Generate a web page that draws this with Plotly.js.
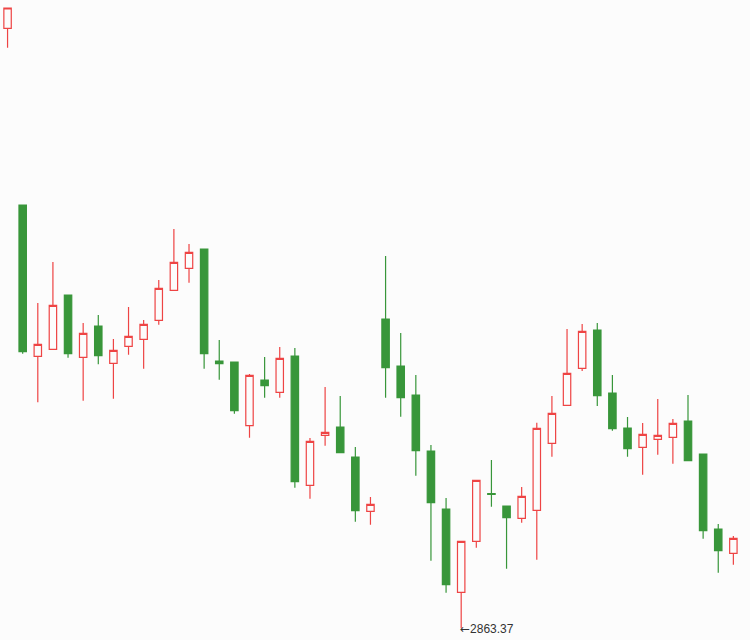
<!DOCTYPE html>
<html>
<head>
<meta charset="utf-8">
<script src="https://cdn.plot.ly/plotly-3.0.1.min.js"></script>
<style>
  html, body { margin: 0; padding: 0; background: #fcfcfc; }
  #chart { width: 750px; height: 640px; }
</style>
</head>
<body>
<div id="chart"></div>
<script>
const days = [1,2,3,4,5,6,7,8,9,10,11,12,13,14,15,16,17,18,19,20,21,22,23,24,25,26,27,28,29,30,31,32,33,34,35,36,37,38,39,40,41,42,43,44,45,46,47,48,49];

const openP = [3343.13,3201.77,3080.73,3086.33,3129.77,3079.93,3104.97,3075.13,3088.73,3094.33,
  3109.53,3133.53,3151.13,3166.57,3076.97,3076.17,3025.21,3061.77,3051.93,3080.97,
  2977.53,3017.53,3024.17,3000.17,2956.73,3110.57,3072.97,3049.77,3004.97,2958.57,
  2891.93,2932.73,2970.97,2960.97,2951.13,2957.53,3011.13,3041.53,3071.13,3101.77,
  3051.37,3023.37,3007.93,3014.33,3015.93,3028.97,3002.57,2942.57,2923.13];

const highP = [3359.37,3201.77,3123.37,3156.17,3129.77,3107.37,3113.77,3094.57,3120.17,3109.77,
  3141.77,3182.57,3170.57,3166.57,3093.77,3076.17,3066.57,3080.17,3088.17,3087.37,
  3015.37,3056.17,3048.97,3008.17,2968.17,3160.97,3099.37,3065.77,3009.77,2967.37,
  2932.73,2981.53,2997.77,2960.97,2976.17,3027.61,3048.97,3102.57,3106.57,3107.37,
  3065.77,3032.17,3027.37,3046.57,3030.57,3049.77,3002.57,2946.57,2936.97];

const lowP = [3327.61,3082.81,3043.93,3086.33,3079.61,3045.21,3074.33,3046.81,3082.01,3070.81,
  3106.01,3133.53,3139.61,3070.81,3062.01,3034.81,3015.61,3047.61,3047.61,2975.61,
  2966.81,3009.21,3003.61,2948.41,2946.01,3047.61,3032.41,2985.21,2917.21,2891.61,
  2863.37,2927.61,2960.41,2910.81,2947.61,2918.01,3000.41,3041.53,3068.97,3040.97,
  3021.21,3000.41,2986.01,3002.01,2994.81,2997.21,2934.81,2907.61,2914.01];

const closeP = [3359.37,3084.41,3090.33,3121.53,3082.81,3099.13,3081.21,3085.53,3096.73,3106.33,
  3135.13,3155.93,3163.93,3082.81,3074.81,3037.21,3065.53,3057.21,3079.13,2980.41,
  3012.73,3019.93,3003.61,2957.21,2962.33,3071.61,3047.61,3005.21,2963.61,2898.01,
  2932.73,2981.53,2970.17,2951.61,2968.73,3023.13,3035.13,3067.13,3100.73,3049.21,
  3022.81,3006.81,3018.33,3017.53,3027.13,2997.21,2941.21,2925.21,2935.13];

const lowLabel = '2863.37';
const lowDay = 31;

const upColor = 'rgb(238,68,68)';
const downColor = 'rgb(56,150,58)';
const bg = '#fcfcfc';

const trace = {
  type: 'candlestick',
  x: days,
  open: openP,
  high: highP,
  low: lowP,
  close: closeP,
  increasing: { line: { color: upColor, width: 1.2 }, fillcolor: bg },
  decreasing: { line: { color: downColor, width: 1.2 }, fillcolor: downColor },
  hoverinfo: 'skip',
  showlegend: false
};

const layout = {
  width: 750,
  height: 640,
  margin: { l: 0, r: 0, t: 0, b: 0, pad: 0 },
  paper_bgcolor: bg,
  plot_bgcolor: bg,
  showlegend: false,
  xaxis: { visible: false, range: [0.5, 50.1], rangeslider: { visible: false }, fixedrange: true },
  yaxis: { visible: false, range: [2853.77, 3365.77], fixedrange: true },
  annotations: [{
    x: lowDay, y: Number(lowLabel), xref: 'x', yref: 'y',
    text: '<span style="font-family:DejaVu Sans">←</span>' + lowLabel, showarrow: false,
    xanchor: 'left', yanchor: 'middle', xshift: -3, yshift: -1,
    font: { family: 'Liberation Sans, Arial, sans-serif', size: 12, color: '#333333' }
  }]
};

Plotly.newPlot('chart', [trace], layout, { staticPlot: true, displayModeBar: false });
</script>
</body>
</html>
